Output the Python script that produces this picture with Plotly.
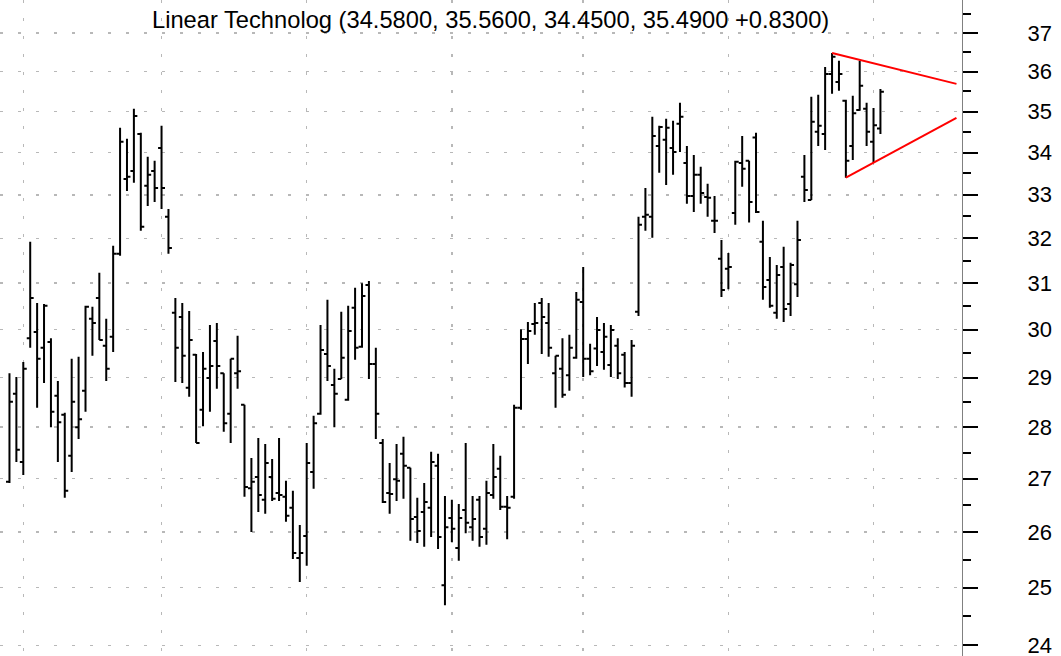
import math
import plotly.graph_objects as go

# ---- data ----
opens = [26.94, 28.67, 27.32, 29.82, 29.95, 29.62, 29.74, 28.63, 28.25, 27.44,
         28.00, 28.73, 30.23, 30.68, 29.66, 29.85, 31.65, 33.37, 33.56, 34.45,
         33.21, 33.56, 34.11, 32.49, 30.36, 30.27, 28.79, 29.47, 28.35, 28.99,
         29.76, 29.09, 28.27, 29.09, 28.45, 26.82, 27.03, 26.60, 27.03, 26.73,
         26.66, 26.45, 25.53, 25.93, 27.13, 28.27, 29.49, 28.85, 28.97, 28.55,
         30.47, 29.64, 30.96, 29.28, 27.69, 26.73, 26.99, 27.48, 27.21, 26.28,
         26.37, 26.45, 27.25, 25.04, 26.26, 25.71, 26.41, 26.09, 26.60, 26.06,
         26.69, 27.19, 26.47, 26.66, 28.39, 29.80, 30.12, 30.57, 30.14, 29.09,
         29.18, 29.05, 29.41, 30.59, 29.39, 29.60, 29.53, 29.26, 29.66, 29.47,
         28.89, 30.38, 32.49, 32.49, 34.16, 34.31, 34.11, 34.70, 33.75, 32.97,
         33.47, 32.95, 32.40, 31.54, 31.32, 32.58, 33.75, 33.80, 34.36, 31.92,
         31.07, 30.36, 31.36, 30.55, 30.98, 33.42, 32.88, 34.50, 34.45, 35.94,
         35.74, 35.27, 34.16, 35.04, 35.07, 34.26, 34.58]
highs = [29.09, 29.01, 29.32, 31.92, 30.57, 30.55, 29.82, 28.93, 28.29, 29.39,
         29.43, 30.51, 30.49, 31.23, 30.23, 31.83, 34.60, 34.33, 35.07, 34.48,
         33.90, 33.80, 34.65, 32.67, 30.68, 30.57, 30.40, 29.49, 29.53, 30.10,
         30.14, 29.09, 29.39, 29.87, 28.45, 27.40, 27.79, 27.67, 27.38, 27.79,
         26.96, 26.77, 26.13, 27.69, 28.23, 30.10, 30.64, 29.18, 30.38, 30.51,
         30.90, 31.00, 31.05, 29.62, 27.77, 27.30, 27.67, 27.81, 27.21, 26.64,
         26.92, 27.52, 27.48, 26.67, 26.60, 26.52, 27.69, 26.67, 26.67, 26.96,
         27.67, 27.44, 26.67, 28.45, 30.01, 30.16, 30.57, 30.68, 30.57, 29.45,
         29.82, 29.89, 30.81, 31.36, 29.70, 30.27, 30.14, 30.10, 29.82, 29.53,
         29.78, 32.49, 33.16, 34.87, 34.65, 34.82, 34.77, 35.22, 34.16, 33.94,
         33.66, 33.26, 32.97, 31.96, 31.67, 33.80, 34.40, 33.80, 34.48, 32.40,
         31.58, 31.40, 31.81, 31.45, 32.40, 33.94, 35.37, 35.42, 36.12, 36.48,
         36.28, 35.29, 35.39, 36.28, 35.22, 35.09, 35.56]
lows = [26.92, 27.32, 27.07, 29.62, 28.39, 28.89, 28.00, 27.32, 26.64, 27.13,
        27.77, 28.31, 29.45, 29.78, 28.93, 29.53, 31.61, 33.09, 33.28, 32.17,
        32.74, 32.83, 32.67, 31.65, 28.91, 28.89, 28.61, 27.69, 28.02, 28.31,
        28.77, 27.91, 27.69, 28.77, 26.66, 26.00, 26.37, 26.34, 26.58, 26.58,
        26.19, 25.51, 25.10, 25.39, 26.81, 28.25, 28.93, 28.00, 28.97, 28.53,
        29.37, 29.62, 28.97, 27.77, 26.54, 26.34, 26.58, 26.62, 25.84, 25.80,
        25.73, 25.91, 25.69, 24.69, 25.82, 25.48, 25.98, 25.84, 25.73, 25.77,
        26.62, 26.41, 25.87, 26.62, 28.35, 29.28, 29.89, 29.49, 29.43, 28.39,
        28.59, 28.73, 29.39, 29.01, 29.05, 29.24, 29.16, 29.01, 28.97, 28.80,
        28.61, 30.29, 32.17, 32.01, 33.52, 33.23, 33.47, 34.01, 32.79, 32.60,
        32.79, 32.49, 32.12, 30.70, 30.87, 32.31, 33.19, 32.36, 32.58, 30.64,
        30.47, 30.23, 30.16, 30.29, 30.70, 32.83, 32.88, 34.16, 34.06, 35.44,
        35.52, 33.40, 33.82, 35.02, 34.16, 33.75, 34.45]
closes = [28.51, 27.56, 29.18, 30.68, 29.39, 30.51, 28.31, 28.10, 26.77, 28.51,
          28.16, 30.49, 30.14, 29.78, 29.18, 31.65, 34.26, 33.42, 34.89, 32.26,
          33.47, 33.16, 33.16, 31.78, 29.62, 29.45, 29.78, 27.69, 29.18, 29.24,
          29.24, 28.08, 29.39, 29.13, 26.84, 26.94, 26.69, 27.30, 26.62, 26.69,
          26.30, 25.62, 25.62, 27.30, 28.08, 29.57, 29.24, 28.67, 29.41, 29.97,
          29.62, 30.72, 29.28, 28.27, 26.56, 26.71, 26.96, 27.25, 26.24, 26.02,
          26.56, 27.32, 25.91, 26.09, 26.06, 26.26, 26.17, 26.24, 25.91, 26.73,
          27.03, 26.47, 26.45, 28.39, 29.80, 29.97, 30.14, 30.27, 29.62, 29.45,
          28.65, 29.62, 30.64, 29.39, 29.13, 29.99, 29.85, 29.99, 29.09, 28.89,
          29.66, 32.31, 32.54, 34.40, 34.62, 34.60, 34.01, 34.87, 32.97, 33.47,
          33.04, 32.93, 32.40, 30.85, 31.36, 33.78, 33.61, 32.83, 32.60, 30.92,
          30.51, 31.18, 30.44, 31.40, 31.96, 33.11, 34.75, 34.65, 35.94, 36.38,
          35.94, 33.80, 34.96, 35.64, 34.50, 34.66, 35.49]
bar_index = list(range(len(closes)))

# month-start bars (vertical grid)
month_starts = [2, 22, 43, 64, 83, 104, 125]

# triangle trend lines (bar index, price)
upper_x = [119, 137]
upper_y = [36.48, 35.69]
lower_x = [121, 137]
lower_y = [33.40, 34.84]

price_ticks = list(range(24, 38))
half_ticks = [p + 0.5 for p in range(24, 38)]

name = "Linear Technolog"

# ---- figure ----
fig = go.Figure()
fig.add_trace(go.Ohlc(
    x=bar_index, open=opens, high=highs, low=lows, close=closes,
    increasing=dict(line=dict(color="black", width=2)),
    decreasing=dict(line=dict(color="black", width=2)),
    tickwidth=0.5, hoverinfo="skip", showlegend=False,
))
fig.add_trace(go.Scatter(x=upper_x, y=upper_y, mode="lines",
                         line=dict(color="#ff0000", width=2), hoverinfo="skip", showlegend=False))
fig.add_trace(go.Scatter(x=lower_x, y=lower_y, mode="lines",
                         line=dict(color="#ff0000", width=2), hoverinfo="skip", showlegend=False))

title = "%s (%.4f, %.4f, %.4f, %.4f %+.4f)" % (
    name, opens[-1], highs[-1], lows[-1], closes[-1], closes[-1] - closes[-2])

fig.update_layout(
    width=1061, height=656,
    margin=dict(l=0, r=99, t=0, b=0, autoexpand=False),
    paper_bgcolor="white", plot_bgcolor="white",
    font=dict(family="Liberation Sans, Arial, sans-serif", color="black"),
    showlegend=False,
    annotations=[dict(text=title, xref="paper", yref="paper", x=490 / 962, y=1 - 20 / 656,
                      xanchor="center", yanchor="middle", showarrow=False,
                      font=dict(size=23.7, color="black"))],
    xaxis=dict(range=[-1.37, 137.8], rangeslider=dict(visible=False),
               tickmode="array", tickvals=month_starts, showticklabels=False, ticks="",
               showgrid=True, gridcolor="#b8b8b8", griddash="3px,15px", gridwidth=1.5,
               zeroline=False, showline=False, fixedrange=True),
    yaxis=dict(type="log", side="right",
               range=[math.log10(23.82), math.log10(37.87)],
               tickmode="array", tickvals=price_ticks, ticktext=[str(p) for p in price_ticks],
               ticks="outside", ticklen=15, tickwidth=2, tickcolor="black",
               minor=dict(tickmode="array", tickvals=half_ticks, ticks="outside",
                          ticklen=8, tickwidth=2, tickcolor="black", showgrid=False),
               tickfont=dict(size=22, color="black"), ticklabelstandoff=45,
               ticklabeloverflow="allow",
               showgrid=True, gridcolor="#b8b8b8", griddash="3px,15px", gridwidth=1.5,
               showline=True, linecolor="#808080", linewidth=1,
               zeroline=False, fixedrange=True, automargin=False),
)

fig.write_html("out.html", config={"displayModeBar": False, "staticPlot": True},
               post_script="document.body.style.margin='0px';document.body.style.overflow='hidden';")
